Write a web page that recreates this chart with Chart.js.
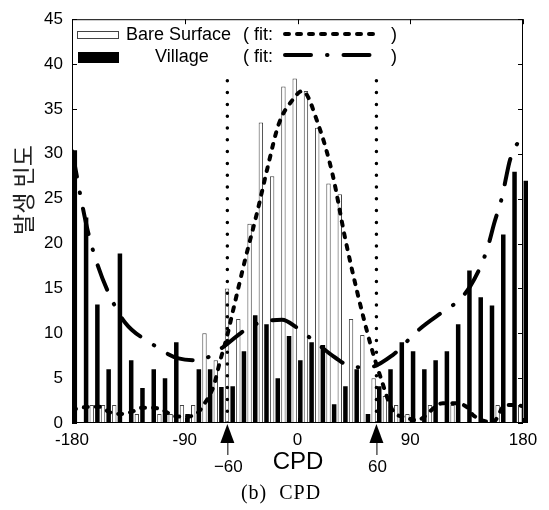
<!DOCTYPE html>
<html>
<head>
<meta charset="utf-8">
<script src="https://cdn.jsdelivr.net/npm/chart.js@4.4.0/dist/chart.umd.min.js"></script>
<style>
  html, body { margin: 0; padding: 0; background: #fff; }
  #wrap { width: 549px; height: 510px; }
</style>
</head>
<body>
<div id="wrap"><canvas id="mycanvas" width="549" height="510"></canvas></div>
<script>
// histogram bins (centre of each 9 degree bin)
const binCenters = [-180,-171,-162,-153,-144,-135,-126,-117,-108,-99,-90,-81,-72,-63,-54,-45,-36,-27,-18,-9,
                    0,9,18,27,36,45,54,63,72,81,90,99,108,117,126,135,144,153,162,171,180];
const bareCounts = [0,0,2,2,2,0,1,0,1,1,2,2,10,7,15,11.6,22.2,33.5,27.5,37.5,
                    38.4,37,32.9,26.7,25.5,11.6,9.8,5,3,2,1,0,2,0,2,0,0,0,2,0,2];
const villageCounts = [30.4,22.9,13.2,6,18.9,7,3.9,6,5,9,1,6,6,4,4.1,8,12,11,5,9.7,
                       7,9,8.7,2.1,4.1,6,1,4.1,6,9,8,6,7,8,11,17,14,13.1,21,28,27];

// fitted curves
const bareFitX = [-180,-166,-158,-150,-141,-133,-124,-115,-107,-99,-90,-80,-75,-67,-62,-56,-52,-42,-32,-24,-15,-4,4,16.5,28,38,48,59,67,76,87,95,116,124,135,140,156,166,172,180];
const bareFitY = [1.5,1.8,1.8,1.2,1.0,1.2,1.7,1.7,1.4,0.8,0.7,1.1,2.0,4.1,6.8,9.8,12.2,18.1,23.6,28.4,33.3,36.0,37.0,33.3,27.7,20.6,14.4,8.4,4.8,1.4,0.6,0.3,2.2,2.2,1.8,0.9,0.1,2.0,2.0,1.9];
const villageFitX = [-180,-178,-172.8,-167.4,-160,-150.5,-137.7,-117,-95,-79,-60,-47.4,-35.5,-12.4,-0.3,11.7,30,42.7,56.3,76.2,87.4,97.8,116.1,128.1,137.7,148.1,152.9,156.9,163.3,166,169.6,180];
const villageFitY = [30.3,28.9,25.0,21.4,17.8,14.4,11.2,8.9,7.2,7.0,8.4,9.8,10.9,11.5,10.6,9.3,7.3,6.3,6.2,7.6,9.1,10.5,12.4,13.6,15.2,18.1,20.1,22.2,25.2,27.0,29.3,32.2];

// the two limits marked with arrows under the axis
const limitPos = [-56, 63];
const limitLabels = ['\u221260', '60'];
const limitTop = 38.4;

const FONT = "'Liberation Sans', Arial, sans-serif";
Chart.defaults.font.family = FONT;
Chart.defaults.color = '#000';

const toPts = (xs, ys) => xs.map((x, i) => ({x: x, y: ys[i]}));

const bareDash = [4, 8];
const villageDash = [26, 16, 0.5, 16];

// frame + inward tick marks (matlab style box)
const frameAndTicks = {
  id: 'frameAndTicks',
  afterDatasetsDraw(chart) {
    const {ctx, chartArea: a, scales: {x, y}} = chart;
    ctx.save();
    ctx.strokeStyle = '#000';
    ctx.lineWidth = 1;
    ctx.strokeRect(a.left + 0.5, a.top + 0.5, a.width - 1, a.height - 1);
    ctx.beginPath();
    y.ticks.forEach(t => {
      const py = Math.round(y.getPixelForValue(t.value)) + 0.5;
      ctx.moveTo(a.left, py); ctx.lineTo(a.left + 5, py);
      ctx.moveTo(a.right, py); ctx.lineTo(a.right - 5, py);
    });
    x.ticks.forEach(t => {
      const px = Math.round(x.getPixelForValue(t.value)) + 0.5;
      ctx.moveTo(px, a.bottom); ctx.lineTo(px, a.bottom - 5);
      ctx.moveTo(px, a.top); ctx.lineTo(px, a.top + 5);
    });
    ctx.stroke();
    ctx.restore();
  }
};

// legend, arrows and the extra labels
const extras = {
  id: 'extras',
  afterDraw(chart) {
    const {ctx, chartArea: a, scales: {x}} = chart;
    ctx.save();
    ctx.fillStyle = '#000';
    ctx.strokeStyle = '#000';

    // legend row 1
    ctx.lineWidth = 1;
    ctx.strokeStyle = '#444';
    ctx.strokeRect(77.5, 31.5, 41, 7);
    ctx.font = '18px ' + FONT;
    ctx.textBaseline = 'middle';
    ctx.textAlign = 'left';
    ctx.fillText('Bare Surface', 126, 35);
    ctx.fillText('( fit:', 243, 35);
    ctx.fillText(')', 391, 35);
    ctx.strokeStyle = '#000';
    ctx.lineWidth = 4;
    ctx.lineCap = 'round';
    ctx.setLineDash(bareDash);
    ctx.beginPath(); ctx.moveTo(285, 34); ctx.lineTo(375, 34); ctx.stroke();

    // legend row 2
    ctx.setLineDash([]);
    ctx.fillRect(78, 52, 41, 11);
    ctx.fillText('Village', 155, 57);
    ctx.fillText('( fit:', 243, 57);
    ctx.fillText(')', 391, 57);
    ctx.setLineDash(villageDash);
    ctx.beginPath(); ctx.moveTo(285, 55); ctx.lineTo(373, 55); ctx.stroke();
    ctx.setLineDash([]);
    ctx.lineCap = 'butt';

    // arrows under the axis
    ctx.lineWidth = 1;
    ctx.textAlign = 'center';
    ctx.font = '17px ' + FONT;
    limitPos.forEach((v, i) => {
      const px = x.getPixelForValue(v);
      ctx.beginPath();
      ctx.moveTo(px, a.bottom + 1);
      ctx.lineTo(px - 7, a.bottom + 20);
      ctx.lineTo(px + 7, a.bottom + 20);
      ctx.closePath();
      ctx.fill();
      ctx.beginPath();
      ctx.moveTo(px + 0.5, a.bottom + 20);
      ctx.lineTo(px + 0.5, a.bottom + 32);
      ctx.stroke();
      ctx.fillText(limitLabels[i], px + 1, a.bottom + 44);
    });

    // axis titles
    ctx.font = '24px ' + FONT;
    ctx.fillText('CPD', 298, 462);

    ctx.font = "20px 'Liberation Serif', 'Times New Roman', serif";
    ctx.letterSpacing = '1px';
    ctx.fillText('(b)  CPD', 281, 494);
    ctx.letterSpacing = '0px';

    ctx.save();
    ctx.translate(23, 190);
    ctx.rotate(-Math.PI / 2);
    ctx.font = "23px 'Noto Sans CJK KR', sans-serif";
    ctx.fillStyle = '#222';
    ctx.fillText('발생 빈도', 0, 0);
    ctx.restore();

    ctx.restore();
  }
};

const ctx = document.getElementById('mycanvas').getContext('2d');

new Chart(ctx, {
  type: 'bar',
  data: {
    datasets: [
      {
        label: 'Bare Surface',
        data: toPts(binCenters, bareCounts),
        backgroundColor: '#fff',
        borderColor: '#444',
        borderWidth: 1,
        borderSkipped: 'start',
        barPercentage: 0.78,
        categoryPercentage: 1.0,
        order: 1
      },
      {
        label: 'Village',
        data: toPts(binCenters, villageCounts),
        backgroundColor: '#000',
        borderWidth: 0,
        barPercentage: 0.8,
        categoryPercentage: 1.0,
        clip: {left: 0, top: 0, right: 5, bottom: 0},
        order: 1
      },
      {
        type: 'line',
        label: 'Bare Surface fit',
        data: toPts(bareFitX, bareFitY),
        borderColor: '#000',
        borderWidth: 4,
        borderDash: bareDash,
        borderCapStyle: 'round',
        cubicInterpolationMode: 'monotone',
        pointRadius: 0,
        fill: false,
        order: 0
      },
      {
        type: 'line',
        label: 'Village fit',
        data: toPts(villageFitX, villageFitY),
        borderColor: '#000',
        borderWidth: 4,
        borderDash: villageDash,
        borderCapStyle: 'round',
        cubicInterpolationMode: 'monotone',
        pointRadius: 0,
        fill: false,
        order: 0
      },
      {
        type: 'line',
        label: 'limit -60',
        data: [{x: limitPos[0], y: 0}, {x: limitPos[0], y: limitTop}],
        borderColor: '#000',
        borderWidth: 3.5,
        borderDash: [0, 11.8],
        borderCapStyle: 'round',
        pointRadius: 0,
        order: 0
      },
      {
        type: 'line',
        label: 'limit 60',
        data: [{x: limitPos[1], y: 0}, {x: limitPos[1], y: limitTop}],
        borderColor: '#000',
        borderWidth: 3.5,
        borderDash: [0, 11.8],
        borderCapStyle: 'round',
        pointRadius: 0,
        order: 0
      }
    ]
  },
  options: {
    responsive: false,
    animation: false,
    devicePixelRatio: 1,
    layout: { padding: { left: 0, top: 17, right: 26, bottom: 0 } },
    plugins: {
      legend: { display: false },
      tooltip: { enabled: false },
      title: { display: false }
    },
    scales: {
      x: {
        type: 'linear',
        min: -180,
        max: 180,
        offset: false,
        grid: { display: false, drawTicks: false },
        border: { display: false },
        ticks: { stepSize: 90, padding: 7, font: { size: 17 }, maxRotation: 0 },
        afterFit: s => { s.height = 87; }
      },
      y: {
        min: 0,
        max: 45,
        grid: { display: false, drawTicks: false },
        border: { display: false },
        ticks: { stepSize: 5, padding: 9, font: { size: 17 } },
        afterFit: s => { s.width = 72; }
      }
    }
  },
  plugins: [frameAndTicks, extras]
});
</script>
</body>
</html>
